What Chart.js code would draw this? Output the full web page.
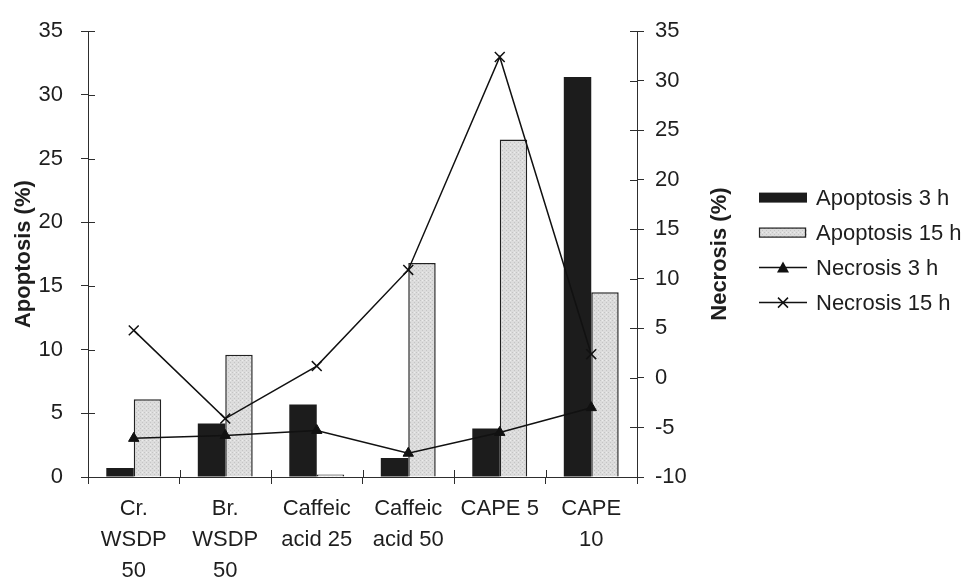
<!DOCTYPE html>
<html>
<head>
<meta charset="utf-8">
<title>Apoptosis / Necrosis</title>
<script src="https://cdn.jsdelivr.net/npm/chart.js@4.4.1/dist/chart.umd.min.js"></script>
<style>
  html, body { margin: 0; padding: 0; background: #fff; }
  #wrap { width: 970px; height: 581px; position: relative; }
</style>
</head>
<body>
<div id="wrap"><canvas id="apoChart"></canvas></div>
<script>
// values
const categories = [['Cr.', 'WSDP', '50'], ['Br.', 'WSDP', '50'], ['Caffeic', 'acid 25'], ['Caffeic', 'acid 50'], 'CAPE 5', ['CAPE', '10']];
const apoptosis3h = [0.7, 4.2, 5.7, 1.5, 3.8, 31.4];
const apoptosis15h = [6.1, 9.6, 0.2, 16.8, 26.5, 14.5];
const necrosis3h = [-6.1, -5.8, -5.3, -7.6, -5.5, -3.0];
const necrosis15h = [4.8, -4.1, 1.2, 10.9, 32.4, 2.4];
const leftTicks = [0, 5, 10, 15, 20, 25, 30, 35];
const rightTicks = [-10, -5, 0, 5, 10, 15, 20, 25, 30, 35];
const seriesNames = ['Apoptosis 3 h', 'Apoptosis 15 h', 'Necrosis 3 h', 'Necrosis 15 h'];
const leftTitle = 'Apoptosis (%)';
const rightTitle = 'Necrosis (%)';

const FONT = '"Liberation Sans", Arial, sans-serif';
const ink = '#1e1e1e';
const axisCol = '#2e2e2e';

// speckled light grey fill like the printed bars
function speckle() {
    const c = document.createElement('canvas');
    c.width = 4; c.height = 4;
    const g = c.getContext('2d');
    g.fillStyle = '#dcdcdc';
    g.fillRect(0, 0, 4, 4);
    g.fillStyle = '#c4c4c4';
    g.fillRect(0, 0, 1, 1);
    g.fillRect(2, 2, 1, 1);
    g.fillStyle = '#ececec';
    g.fillRect(2, 0, 1, 1);
    return g.createPattern(c, 'repeat');
}
const lightFill = speckle();

// tick marks crossing the axes (Excel style), inner half
const crossTicks = {
    id: 'crossTicks',
    afterDatasetsDraw(chart) {
        const { ctx, chartArea: a, scales } = chart;
        ctx.save();
        ctx.strokeStyle = axisCol;
        ctx.lineWidth = 1;
        ctx.beginPath();
        scales.yL.ticks.forEach((t, i) => {
            const y = Math.round(scales.yL.getPixelForTick(i)) + 0.5;
            ctx.moveTo(a.left, y); ctx.lineTo(a.left + 7, y);
        });
        scales.yR.ticks.forEach((t, i) => {
            const y = Math.round(scales.yR.getPixelForTick(i)) + 0.5;
            ctx.moveTo(a.right - 7, y); ctx.lineTo(a.right, y);
        });
        for (let i = 0; i <= categories.length; i++) {
            const x = Math.round(scales.x.getPixelForValue(i - 0.5)) + 0.5;
            ctx.moveTo(x, a.bottom - 7); ctx.lineTo(x, a.bottom);
        }
        ctx.stroke();
        ctx.restore();
    }
};

function drawMarker(ctx, style, x, y) {
    ctx.beginPath();
    if (style === 'triangle') {
        ctx.moveTo(x, y - 6);
        ctx.lineTo(x + 6, y + 5);
        ctx.lineTo(x - 6, y + 5);
        ctx.closePath();
        ctx.fill();
    } else {
        ctx.moveTo(x - 5, y - 5); ctx.lineTo(x + 5, y + 5);
        ctx.moveTo(x + 5, y - 5); ctx.lineTo(x - 5, y + 5);
        ctx.stroke();
    }
}

// axis titles (both read bottom-to-top) and the legend on the right
const sideText = {
    id: 'sideText',
    afterDraw(chart) {
        const { ctx, chartArea: a } = chart;
        const midY = (a.top + a.bottom) / 2;
        ctx.save();
        ctx.fillStyle = ink;
        ctx.font = 'bold 22px ' + FONT;
        ctx.textAlign = 'center';
        ctx.textBaseline = 'middle';
        [[a.left - 64, leftTitle], [a.right + 83, rightTitle]].forEach(([x, txt]) => {
            ctx.save();
            ctx.translate(x, midY);
            ctx.rotate(-Math.PI / 2);
            ctx.fillText(txt, 0, 0);
            ctx.restore();
        });

        const x0 = a.right + 122, rowH = 35;
        const ds = chart.data.datasets;
        const y0 = midY - rowH * (ds.length - 1) / 2 - 4;
        ctx.font = '22px ' + FONT;
        ctx.textAlign = 'left';
        ds.forEach((d, i) => {
            const y = y0 + i * rowH;
            if (d.type === 'bar') {
                ctx.fillStyle = d.backgroundColor;
                ctx.fillRect(x0, y - 5, 48, 10);
                if (d.borderWidth) {
                    ctx.strokeStyle = d.borderColor;
                    ctx.lineWidth = 1.2;
                    ctx.strokeRect(x0 + 0.5, y - 4.5, 46, 9);
                }
            } else {
                ctx.strokeStyle = d.borderColor;
                ctx.fillStyle = d.borderColor;
                ctx.lineWidth = 1.5;
                ctx.beginPath();
                ctx.moveTo(x0, y); ctx.lineTo(x0 + 48, y);
                ctx.stroke();
                drawMarker(ctx, d.pointStyle, x0 + 24, y);
            }
            ctx.fillStyle = ink;
            ctx.fillText(d.label, x0 + 57, y + 1);
        });
        ctx.restore();
    }
};

const ctx = document.getElementById('apoChart').getContext('2d');
const chart = new Chart(ctx, {
    data: {
        labels: categories,
        datasets: [
            {
                type: 'bar', label: seriesNames[0], data: apoptosis3h, yAxisID: 'yL',
                backgroundColor: '#1c1c1c', borderWidth: 0, order: 2,
                categoryPercentage: 0.6, barPercentage: 1.0
            },
            {
                type: 'bar', label: seriesNames[1], data: apoptosis15h, yAxisID: 'yL',
                backgroundColor: lightFill, borderColor: '#222', borderWidth: 1.5, order: 2,
                categoryPercentage: 0.6, barPercentage: 1.0
            },
            {
                type: 'line', label: seriesNames[2], data: necrosis3h, yAxisID: 'yR',
                borderColor: '#111', backgroundColor: '#111', borderWidth: 1.5,
                pointStyle: 'triangle', pointRadius: 6, pointBorderWidth: 1, tension: 0, order: 1
            },
            {
                type: 'line', label: seriesNames[3], data: necrosis15h, yAxisID: 'yR',
                borderColor: '#111', backgroundColor: '#111', borderWidth: 1.5,
                pointStyle: 'crossRot', pointRadius: 7, pointBorderWidth: 1.5, tension: 0, order: 0
            }
        ]
    },
    options: {
        responsive: true,
        maintainAspectRatio: false,
        animation: false,
        layout: { padding: { top: 25, right: 233, bottom: 0, left: 0 } },
        plugins: {
            legend: { display: false },
            tooltip: { enabled: false }
        },
        scales: {
            x: {
                grid: { drawOnChartArea: false, tickLength: 7, color: axisCol, offset: true },
                border: { color: axisCol, width: 1 },
                ticks: { color: ink, font: { family: FONT, size: 22, lineHeight: 1.4 }, padding: 10, maxRotation: 0, autoSkip: false },
                afterFit: s => { s.height = 104; }
            },
            yL: {
                position: 'left',
                min: leftTicks[0], max: leftTicks[leftTicks.length - 1],
                afterBuildTicks: s => { s.ticks = leftTicks.map(v => ({ value: v })); },
                grid: { drawOnChartArea: false, tickLength: 7, color: axisCol },
                border: { color: axisCol, width: 1 },
                ticks: { color: ink, font: { family: FONT, size: 22 }, padding: 18 },
                afterFit: s => { s.width = 88; }
            },
            yR: {
                position: 'right',
                min: rightTicks[0], max: rightTicks[rightTicks.length - 1],
                afterBuildTicks: s => { s.ticks = rightTicks.map(v => ({ value: v })); },
                grid: { drawOnChartArea: false, tickLength: 7, color: axisCol },
                border: { color: axisCol, width: 1 },
                ticks: { color: ink, font: { family: FONT, size: 22 }, padding: 11 },
                afterFit: s => { s.width = 100; }
            }
        }
    },
    plugins: [crossTicks, sideText]
});
</script>
</body>
</html>
